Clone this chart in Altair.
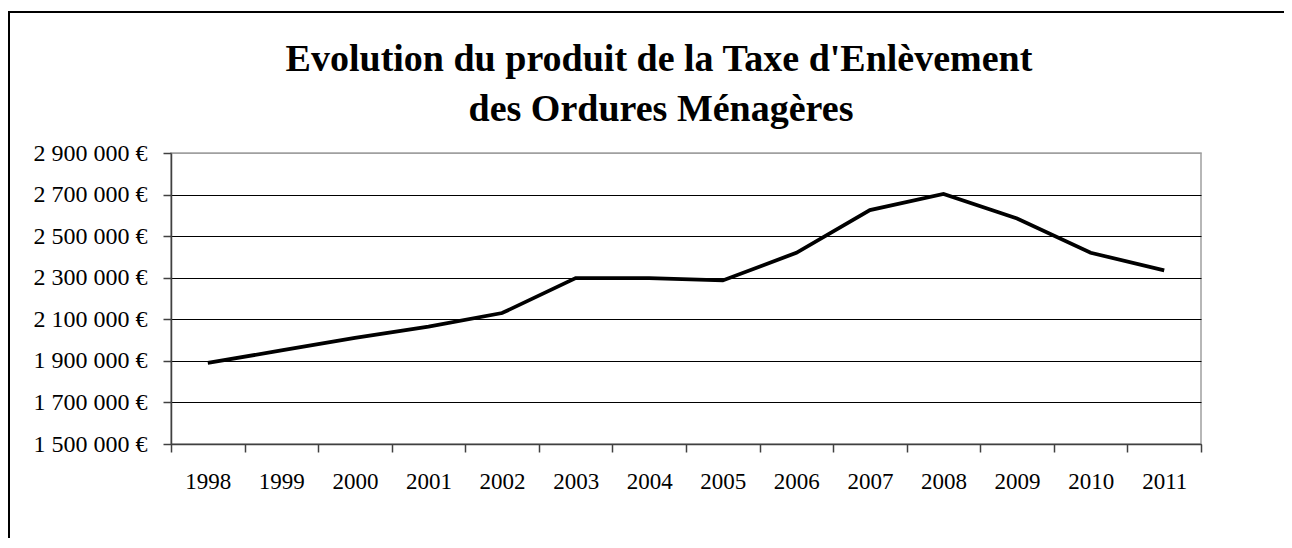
import altair as alt
import pandas as pd

years = ["1998", "1999", "2000", "2001", "2002", "2003", "2004",
         "2005", "2006", "2007", "2008", "2009", "2010", "2011"]
values = [1890000, 1950000, 2010000, 2065000, 2130000, 2298000, 2298000,
          2287000, 2420000, 2625000, 2703000, 2585000, 2420000, 2335000]
y_ticks = [1500000, 1700000, 1900000, 2100000, 2300000, 2500000, 2700000, 2900000]
title_line1 = "Evolution du produit de la Taxe d'Enlèvement"
title_line2 = "des Ordures Ménagères"

df = pd.DataFrame({"annee": years, "produit": values})
FONT = "Liberation Serif"

line = alt.Chart(df).mark_line(color="black", strokeWidth=3.8, strokeJoin="miter").encode(
    x=alt.X("annee:O", bandPosition=0.5,
            scale=alt.Scale(type="band", paddingInner=0, paddingOuter=0),
            axis=alt.Axis(title=None, labelAngle=0, tickBand="extent", grid=False,
                          domainColor="#404040", tickColor="#404040", tickSize=8,
                          domainWidth=1.5, tickWidth=1.5,
                          labelFont=FONT, labelFontSize=23, labelColor="black",
                          labelPadding=18)),
    y=alt.Y("produit:Q",
            scale=alt.Scale(domain=[1500000, 2900000], nice=False, zero=False),
            axis=alt.Axis(title=None, values=y_ticks,
                          labelExpr="replace(format(datum.value, ','), /,/g, ' ') + ' €'",
                          grid=True,
                          gridColor={"condition": {"test": "datum.value >= 2900000", "value": "#a0a0a0"},
                                     "value": "black"},
                          gridWidth=1,
                          domainColor="#404040", tickColor="#404040", tickSize=8,
                          domainWidth=1.5, tickWidth=1.5,
                          labelFont=FONT, labelFontSize=24, labelColor="black",
                          labelPadding=16)),
)

one = pd.DataFrame({"k": [0]})
frame_top = alt.Chart(one).mark_rule(color="black", strokeWidth=2).encode(
    x=alt.value(-162), x2=alt.value(1300), y=alt.value(-141), y2=alt.value(-141))
frame_left = alt.Chart(one).mark_rule(color="black", strokeWidth=2).encode(
    x=alt.value(-162), x2=alt.value(-162), y=alt.value(-142), y2=alt.value(600))

title1 = alt.Chart(one).mark_text(font=FONT, fontSize=38, fontWeight="bold", color="black",
                                  align="center", baseline="alphabetic").encode(
    x=alt.value(488), y=alt.value(-82), text=alt.value(title_line1))
title2 = alt.Chart(one).mark_text(font=FONT, fontSize=38, fontWeight="bold", color="black",
                                  align="center", baseline="alphabetic").encode(
    x=alt.value(490), y=alt.value(-32), text=alt.value(title_line2))

chart = alt.layer(frame_top, frame_left, title1, title2, line).properties(
    width=1030,
    height=291,
    autosize=alt.AutoSizeParams(type="none"),
    padding={"left": 163, "top": 145, "right": 83, "bottom": 94},
).configure_view(stroke="#a0a0a0", strokeWidth=1.5)

chart.save("out.html", embed_options={"renderer": "svg", "actions": False})
